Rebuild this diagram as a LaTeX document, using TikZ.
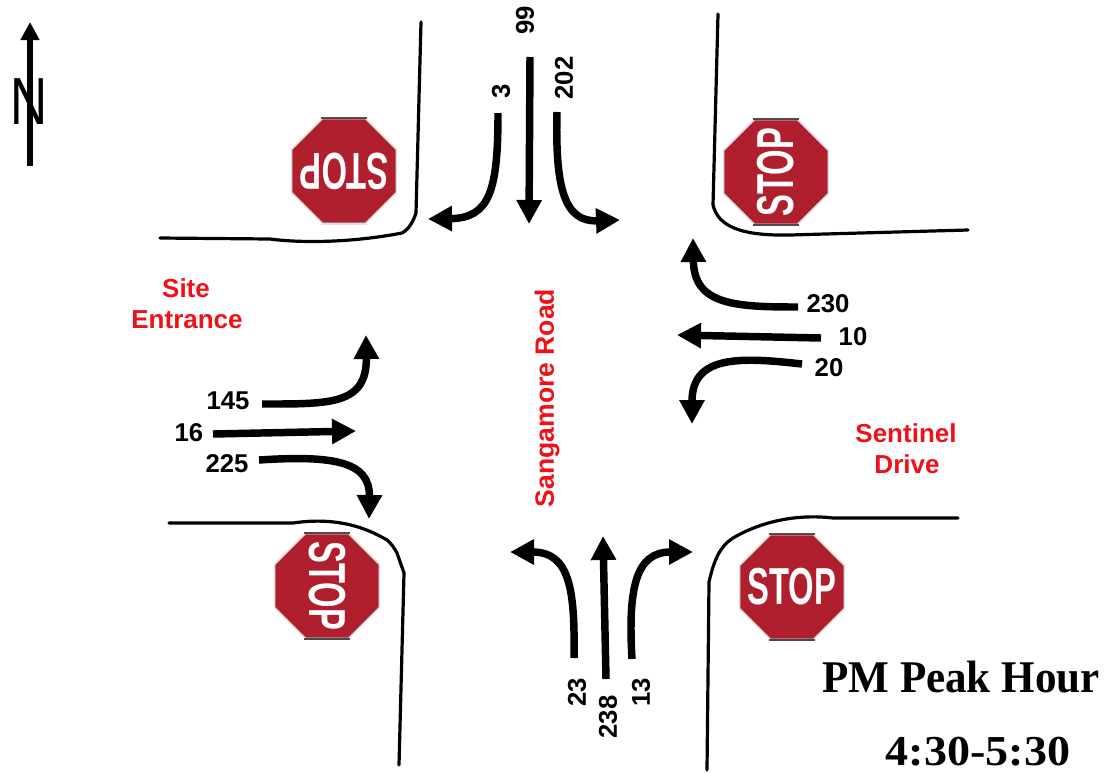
\documentclass[tikz,border=0pt]{standalone}
\usepackage{fontspec}
\setmainfont{Liberation Sans}
\newfontfamily\serifb{Liberation Serif}[BoldFont={Liberation Serif Bold}]
\usetikzlibrary{arrows.meta,shapes.geometric}
\definecolor{signred}{HTML}{B01F2E}
\definecolor{roadred}{HTML}{F01018}
\tikzset{
  road/.style={line width=2.4pt,black,line cap=round},
  flow/.style={line width=5.6pt,black,-{Triangle[length=18pt,width=18pt]}},
  count/.style={font=\fontsize{19.3}{19.3}\selectfont\bfseries,inner sep=0pt},
  place/.style={font=\fontsize{19.5}{19.5}\selectfont\bfseries,text=roadred,inner sep=0pt},
  title/.style={font=\serifb\fontsize{34}{34}\selectfont\bfseries,inner sep=0pt,anchor=base},
  octa/.style={regular polygon,regular polygon sides=8,minimum size=85pt,inner sep=0pt,fill=signred,draw=black!12,line width=1.2pt},
  signtext/.style={font=\fontsize{39}{39}\selectfont\bfseries,text=white,inner sep=0pt},
  edgeline/.style={line width=1.4pt,black!70}
}
\newcommand{\stopsign}[5]{%
  \node[octa] (#1) at (#2,#3) {};
  \node[signtext,rotate=#4] (#1t) at (#2,#3) {\scalebox{.63}[1]{STOP}};
  \coordinate (#1a) at (#2-23,#3-53);
  \coordinate (#1b) at (#2+23,#3-53);
  \coordinate (#1c) at (#2-23,#3+53);
  \coordinate (#1d) at (#2+23,#3+53);
  \draw[edgeline] (#1a) -- (#1b);
  \draw[edgeline,#5] (#1c) -- (#1d);
}
\begin{document}
\begin{tikzpicture}[x=0.75pt,y=-0.75pt]
\useasboundingbox (0,0) rectangle (1109,772);
% road edges
\coordinate (nwA) at (160,238); \coordinate (nwB) at (421,22);
\draw[road] (nwA) -- (270,239) .. controls (300,243) and (350,243) .. (402,233) .. controls (409,229) and (413,222) .. (416,213) -- (nwB);
\coordinate (neA) at (718,14); \coordinate (neB) at (968,230);
\draw[road] (neA) -- (713,205) .. controls (718,226) and (740,236) .. (790,235) -- (825,234) -- (neB);
\coordinate (swA) at (169,523); \coordinate (swB) at (399,765);
\draw[road] (swA) -- (293,523) .. controls (340,516) and (370,530) .. (387,540) .. controls (393,545) and (397,553) .. (397,553) -- (404,573) -- (swB);
\coordinate (seA) at (958,518); \coordinate (seB) at (707,770);
\draw[road] (seA) -- (833,518) .. controls (790,513) and (755,525) .. (733,538) .. controls (720,546) and (714,560) .. (709,582) -- (seB);
% stop signs
\stopsign{sNW}{344}{171}{180}{black!12}
\stopsign{sNE}{776}{172}{90}{black!70}
\stopsign{sSW}{327}{586}{-90}{black!70}
\stopsign{sSE}{792}{587}{0}{black!70}
% north arrow
\coordinate (nS) at (30,166); \coordinate (nE) at (30,22);
\draw[line width=5pt,-{Triangle[length=13.5pt,width=13.5pt]}] (nS) -- (nE);
\node[inner sep=0pt,font=\fontsize{50}{50}\selectfont] (north) at (29,102) {\scalebox{.77}[1]{N}};
% counts
\node[count,rotate=90] (c99) at (525,20) {99};
\node[count,rotate=90] (c3) at (501,91) {3};
\node[count,rotate=90] (c202) at (564,78) {202};
\node[count] (c230) at (828,304) {230};
\node[count] (c10) at (853,337) {10};
\node[count] (c20) at (829,368) {20};
\node[count] (c145) at (228,401) {145};
\node[count] (c16) at (189,433) {16};
\node[count] (c225) at (227,464) {225};
\node[count,rotate=90] (c23) at (577,692) {23};
\node[count,rotate=90] (c238) at (608,717) {238};
\node[count,rotate=90] (c13) at (641,692) {13};
% flows
\coordinate (a1) at (498,113); \coordinate (a1e) at (428,219);
\draw[flow] (a1) .. controls (498,190) and (490,218) .. (a1e);
\coordinate (a2) at (530,57); \coordinate (a2e) at (529,224);
\draw[flow] (a2) -- (a2e);
\coordinate (a3) at (557,112); \coordinate (a3e) at (620,220);
\draw[flow] (a3) .. controls (555,190) and (565,222) .. (a3e);
\coordinate (b1) at (798,307); \coordinate (b1e) at (693,238);
\draw[flow] (b1) .. controls (735,307) and (694,305) .. (b1e);
\coordinate (b2) at (821,338); \coordinate (b2e) at (677,335);
\draw[flow] (b2) -- (b2e);
\coordinate (b3) at (802,364); \coordinate (b3e) at (692,424);
\draw[flow] (b3) .. controls (740,357) and (692,355) .. (b3e);
\coordinate (d1) at (262,404); \coordinate (d1e) at (366,335);
\draw[flow] (d1) .. controls (330,404) and (367,405) .. (d1e);
\coordinate (d2) at (213,434); \coordinate (d2e) at (356,431);
\draw[flow] (d2) -- (d2e);
\coordinate (d3) at (259,460); \coordinate (d3e) at (369,519);
\draw[flow] (d3) .. controls (335,455) and (370,462) .. (d3e);
\coordinate (e1) at (574,658); \coordinate (e1e) at (510,552);
\draw[flow] (e1) .. controls (575,590) and (570,552) .. (e1e);
\coordinate (e2) at (606,679); \coordinate (e2e) at (603,536);
\draw[flow] (e2) -- (e2e);
\coordinate (e3) at (632,659); \coordinate (e3e) at (693,552);
\draw[flow] (e3) .. controls (628,590) and (635,552) .. (e3e);
% places
\node[place] (site) at (186,288) {Site};
\node[place] (entr) at (187,320) {Entrance};
\node[place] (sent) at (906,433) {Sentinel};
\node[place] (drive) at (907,464) {Drive};
\node[place,rotate=90,font=\fontsize{19.9}{19.9}\selectfont\bfseries] (sang) at (547,398) {Sangamore Road};
% title
\node[title] (pm) at (961,692) {\scalebox{.95}[1]{PM Peak Hour}};
\node[title] (time) at (978,765) {\scalebox{1.08}[1]{\fontsize{32}{32}\selectfont 4:30-5:30}};
\end{tikzpicture}
\end{document}
